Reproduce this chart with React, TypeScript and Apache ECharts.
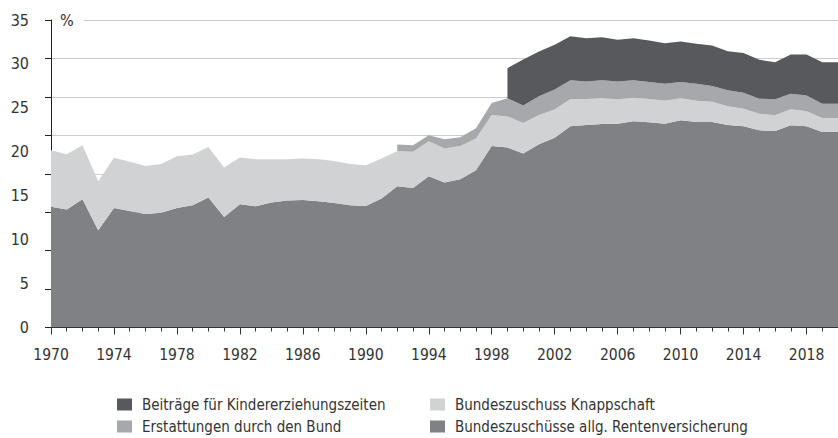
import React, { useEffect, useRef } from "react";
import * as echarts from "echarts";

const years = [
  "1970","1971","1972","1973","1974","1975","1976","1977","1978","1979",
  "1980","1981","1982","1983","1984","1985","1986","1987","1988","1989",
  "1990","1991","1992","1993","1994","1995","1996","1997","1998","1999",
  "2000","2001","2002","2003","2004","2005","2006","2007","2008","2009",
  "2010","2011","2012","2013","2014","2015","2016","2017","2018","2019",
  "2020",
];

const yTickLabels = ["0", "5", "10", "15", "20", "25", "30", "35"];

const seriesNames = [
  "Bundeszuschüsse allg. Rentenversicherung",
  "Bundeszuschuss Knappschaft",
  "Erstattungen durch den Bund",
  "Beiträge für Kindererziehungszeiten",
];

const bundeszuschuesse = [
  13.73, 13.43, 14.6, 11.08, 13.61, 13.27, 12.93, 13.05, 13.61, 13.92,
  14.8, 12.59, 14.03, 13.81, 14.23, 14.45, 14.52, 14.38, 14.18, 13.92,
  13.84, 14.68, 16.08, 15.89, 17.22, 16.5, 16.88, 17.9, 20.66, 20.48,
  19.8, 20.85, 21.61, 22.9, 23.05, 23.16, 23.2, 23.47, 23.35, 23.2,
  23.58, 23.39, 23.39, 23.05, 22.9, 22.44, 22.36, 23.01, 22.9, 22.25,
  22.25,
];

const knappschaft = [
  6.44, 6.29, 6.14, 5.57, 5.71, 5.59, 5.46, 5.56, 5.88, 5.76,
  5.75, 5.61, 5.31, 5.34, 4.92, 4.7, 4.71, 4.77, 4.77, 4.69,
  4.63, 4.55, 4.01, 4.11, 3.97, 3.86, 3.78, 3.6, 3.54, 3.55,
  3.47, 3.33, 3.19, 3.1, 2.95, 2.92, 2.77, 2.69, 2.65, 2.62,
  2.5, 2.43, 2.31, 2.12, 2.01, 1.9, 1.79, 1.82, 1.7, 1.59,
  1.59,
];

const erstattungen = [
  null, null, null, null, null, null, null, null, null, null,
  null, null, null, null, null, null, null, null, null, null,
  null, null, 0.73, 0.74, 0.69, 1.06, 0.99, 1.17, 1.35, 2.05,
  2.01, 2.13, 2.3, 2.13, 2.01, 2.05, 2.04, 1.97, 1.93, 1.93,
  1.85, 1.93, 1.78, 1.82, 1.82, 1.71, 1.82, 1.78, 1.82, 1.64,
  1.64,
];

const kindererziehung = [
  null, null, null, null, null, null, null, null, null, null,
  null, null, null, null, null, null, null, null, null, null,
  null, null, null, null, null, null, null, null, null, 3.44,
  5.23, 5.11, 5.08, 5.03, 4.92, 4.92, 4.74, 4.8, 4.74, 4.61,
  4.63, 4.55, 4.62, 4.46, 4.5, 4.43, 4.23, 4.47, 4.66, 4.72,
  4.72,
];

const colors = ["#808185", "#d1d2d4", "#a7a8ab", "#58595c"];
const FONT = "'Liberation Sans Narrow', 'Arial Narrow', 'DejaVu Sans Condensed', sans-serif";
const TEXT = "#333333";

export default function App() {
  const ref = useRef<HTMLDivElement>(null);
  useEffect(() => {
    if (!ref.current) return;
    const chart = echarts.init(ref.current, undefined, { renderer: "svg" });
    const values = [bundeszuschuesse, knappschaft, erstattungen, kindererziehung];
    const legendText = { color: TEXT, fontSize: 15, fontFamily: FONT, padding: [0, 0, 0, 5] };
    chart.setOption({
      animation: false,
      backgroundColor: "#ffffff",
      textStyle: { fontFamily: FONT },
      grid: { left: 51, top: 20, width: 791.5, bottom: 110.5, containLabel: false },
      xAxis: [
        {
          type: "category",
          data: years,
          boundaryGap: false,
          position: "bottom",
          axisLine: { show: true, lineStyle: { color: "#333", width: 1 } },
          axisTick: { show: true, interval: 3, length: 7, lineStyle: { color: "#333" } },
          axisLabel: { interval: 3, margin: 19, color: TEXT, fontSize: 15.5, fontFamily: FONT },
          splitLine: { show: false },
          z: 5,
        },
        {
          type: "category",
          data: years,
          boundaryGap: false,
          position: "bottom",
          axisLine: { show: false },
          axisTick: { show: true, interval: 0, length: 4, lineStyle: { color: "#333" } },
          axisLabel: { show: false },
          splitLine: { show: false },
        },
      ],
      yAxis: [
        {
          type: "value",
          min: 0,
          max: 35,
          interval: 5,
          position: "left",
          axisLine: { show: false },
          axisTick: { show: false },
          splitLine: { show: false },
          axisLabel: {
            margin: 22,
            color: TEXT,
            fontSize: 16,
            fontFamily: FONT,
            formatter: (v: number) => yTickLabels[Math.round(v / 5)] ?? "",
          },
        },
        {
          type: "value",
          min: 0,
          max: 40,
          interval: 5,
          position: "left",
          axisLine: { show: true, lineStyle: { color: "#222", width: 1 } },
          axisTick: { show: true, length: 6, lineStyle: { color: "#222" } },
          axisLabel: { show: false },
          splitLine: { show: true, lineStyle: { color: "#cbcbcb", width: 1 } },
        },
      ],
      legend: [
        {
          orient: "vertical",
          left: 117,
          top: 397,
          padding: 0,
          itemWidth: 15,
          itemHeight: 12,
          itemGap: 7,
          icon: "rect",
          textStyle: legendText,
          data: [seriesNames[3], seriesNames[2]],
        },
        {
          orient: "vertical",
          left: 430,
          top: 397,
          padding: 0,
          itemWidth: 15,
          itemHeight: 12,
          itemGap: 7,
          icon: "rect",
          textStyle: legendText,
          data: [seriesNames[1], seriesNames[0]],
        },
      ],
      graphic: [
        {
          type: "text",
          x: 52,
          y: 20,
          z: 100,
          style: {
            text: "%",
            fill: TEXT,
            font: "16px " + FONT,
            verticalAlign: "middle",
            backgroundColor: "#ffffff",
            padding: [3, 10, 3, 8],
          },
        },
      ],
      series: seriesNames.map((name, i) => ({
        name,
        type: "line",
        stack: "total",
        xAxisIndex: 0,
        yAxisIndex: 0,
        data: values[i],
        showSymbol: false,
        symbol: "none",
        lineStyle: { width: 0, color: colors[i] },
        itemStyle: { color: colors[i] },
        areaStyle: { color: colors[i], opacity: 1 },
        emphasis: { disabled: true },
        z: 2,
      })),
    });
    return () => chart.dispose();
  }, []);
  return <div ref={ref} style={{ width: 838, height: 438, position: "absolute", left: 0, top: 0 }} />;
}
